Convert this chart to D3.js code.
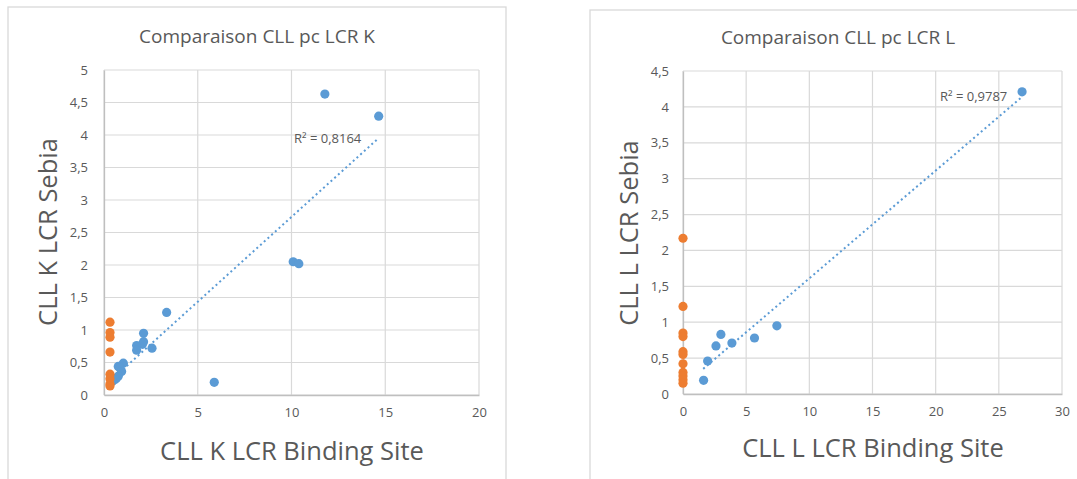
<!DOCTYPE html>
<html><head><meta charset="utf-8">
<script src="https://cdn.jsdelivr.net/npm/d3@7"></script>
<style>body{margin:0;background:#fff}svg{display:block}text{font-family:"Open Sans",sans-serif;fill:#595959}</style>
</head><body><svg id="c" width="1077" height="479"></svg>
<script>
// ---- data ----
const kBlueX = [11.78, 14.65, 10.09, 10.39, 5.88, 3.34, 2.11, 2.11, 2.05, 1.74, 1.74, 2.56, 1.03, 0.76, 0.85, 0.94, 0.76, 0.67, 0.59, 0.45];
const kBlueY = [4.63, 4.29, 2.05, 2.02, 0.195, 1.27, 0.95, 0.82, 0.78, 0.76, 0.69, 0.72, 0.49, 0.44, 0.42, 0.36, 0.29, 0.26, 0.24, 0.21];
const kOrangeX = [0.32, 0.32, 0.32, 0.32, 0.32, 0.32, 0.32, 0.32];
const kOrangeY = [1.12, 0.96, 0.89, 0.66, 0.32, 0.25, 0.17, 0.14];
const kTrendX = [0.42, 14.6];
const kTrendY = [0.24, 3.94];
const kXTicks = [0, 5, 10, 15, 20];
const kYTicks = [0, 0.5, 1, 1.5, 2, 2.5, 3, 3.5, 4, 4.5, 5];

const lBlueX = [26.84, 7.43, 5.66, 3.87, 3.0, 2.61, 1.95, 1.63];
const lBlueY = [4.21, 0.95, 0.78, 0.71, 0.83, 0.67, 0.46, 0.19];
const lOrangeX = [0, 0, 0, 0, 0, 0, 0, 0, 0, 0, 0];
const lOrangeY = [2.17, 1.22, 0.85, 0.80, 0.59, 0.55, 0.42, 0.30, 0.25, 0.20, 0.15];
const lTrendX = [1.6, 26.84];
const lTrendY = [0.35, 4.14];
const lXTicks = [0, 5, 10, 15, 20, 25, 30];
const lYTicks = [0, 0.5, 1, 1.5, 2, 2.5, 3, 3.5, 4, 4.5];

const fmt = v => String(v).replace('.', ',');
const svg = d3.select('#c');
svg.append('rect').attr('width',1077).attr('height',479).attr('fill','#fff');

function chart(o){
  const g = svg.append('g');
  g.append('rect').attr('x',o.box[0]).attr('y',o.box[1]).attr('width',o.box[2]).attr('height',o.box[3])
    .attr('fill','#fff').attr('stroke','#d9d9d9').attr('stroke-width',1.3);
  const x = d3.scaleLinear().domain(o.xd).range(o.xr);
  const y = d3.scaleLinear().domain(o.yd).range(o.yr);
  g.append('g').selectAll('line').data(o.xt).join('line')
    .attr('x1',d=>x(d)).attr('x2',d=>x(d)).attr('y1',o.yr[0]).attr('y2',o.yr[1])
    .attr('stroke','#d9d9d9').attr('stroke-width',1.2);
  g.append('g').selectAll('line').data(o.yt).join('line')
    .attr('y1',d=>y(d)).attr('y2',d=>y(d)).attr('x1',o.xr[0]).attr('x2',o.xr[1])
    .attr('stroke','#d9d9d9').attr('stroke-width',1.2);
  const xa = g.append('g').attr('transform',`translate(0,${o.yr[0]})`)
    .call(d3.axisBottom(x).tickValues(o.xt).tickSize(0).tickPadding(13).tickFormat(fmt));
  xa.select('.domain').attr('stroke','#bfbfbf').attr('stroke-width',1.3);
  xa.selectAll('text').attr('font-size',13).attr('fill','#595959').attr('font-family','"Open Sans",sans-serif');
  const ya = g.append('g').attr('transform',`translate(${o.xr[0]},0)`)
    .call(d3.axisLeft(y).tickValues(o.yt).tickSize(0).tickPadding(o.ypad).tickFormat(fmt));
  ya.select('.domain').attr('stroke','#bfbfbf').attr('stroke-width',1.3);
  ya.selectAll('text').attr('font-size',13).attr('fill','#595959').attr('font-family','"Open Sans",sans-serif');
  g.append('path').datum(d3.zip(o.tx,o.ty))
    .attr('d',d3.line().x(d=>x(d[0])).y(d=>y(d[1])))
    .attr('stroke','#5b9bd5').attr('stroke-width',2).attr('stroke-dasharray','2,3').attr('fill','none');
  g.append('g').selectAll('circle').data(d3.zip(o.bx,o.by)).join('circle')
    .attr('cx',d=>x(d[0])).attr('cy',d=>y(d[1])).attr('r',4.6).attr('fill','#5b9bd5');
  g.append('g').selectAll('circle').data(d3.zip(o.ox,o.oy)).join('circle')
    .attr('cx',d=>x(d[0])).attr('cy',d=>y(d[1])).attr('r',4.6).attr('fill','#ed7d31');
  g.append('text').attr('x',o.title[1]).attr('y',o.title[2]).attr('text-anchor','middle')
    .attr('font-size',19).text(o.title[0]);
  g.append('text').attr('x',o.r2[1]).attr('y',o.r2[2]).attr('font-size',13).text(o.r2[0]);
  g.append('text').attr('x',o.xtitle[1]).attr('y',o.xtitle[2]).attr('text-anchor','middle')
    .attr('font-size',25.5).text(o.xtitle[0]);
  g.append('text').attr('transform',`translate(${o.ytitle[1]},${o.ytitle[2]}) rotate(-90)`).attr('text-anchor','middle')
    .attr('font-size',25.5).text(o.ytitle[0]);
}

chart({box:[8,7,498,500], xd:[0,20], xr:[104,479], yd:[0,5], yr:[395,70], xt:kXTicks, yt:kYTicks, ypad:16,
  bx:kBlueX, by:kBlueY, ox:kOrangeX, oy:kOrangeY, tx:kTrendX, ty:kTrendY,
  title:['Comparaison CLL pc LCR K',257,43], r2:['R² = 0,8164',294,143],
  xtitle:['CLL K LCR Binding Site',292,460], ytitle:['CLL K LCR Sebia',57,232]});

chart({box:[590,10,500,500], xd:[0,30], xr:[683,1062], yd:[0,4.5], yr:[394,71], xt:lXTicks, yt:lYTicks, ypad:14,
  bx:lBlueX, by:lBlueY, ox:lOrangeX, oy:lOrangeY, tx:lTrendX, ty:lTrendY,
  title:['Comparaison CLL pc LCR L',838,44], r2:['R² = 0,9787',940,101],
  xtitle:['CLL L LCR Binding Site',873,457], ytitle:['CLL L LCR Sebia',638,233]});
</script></body></html>
